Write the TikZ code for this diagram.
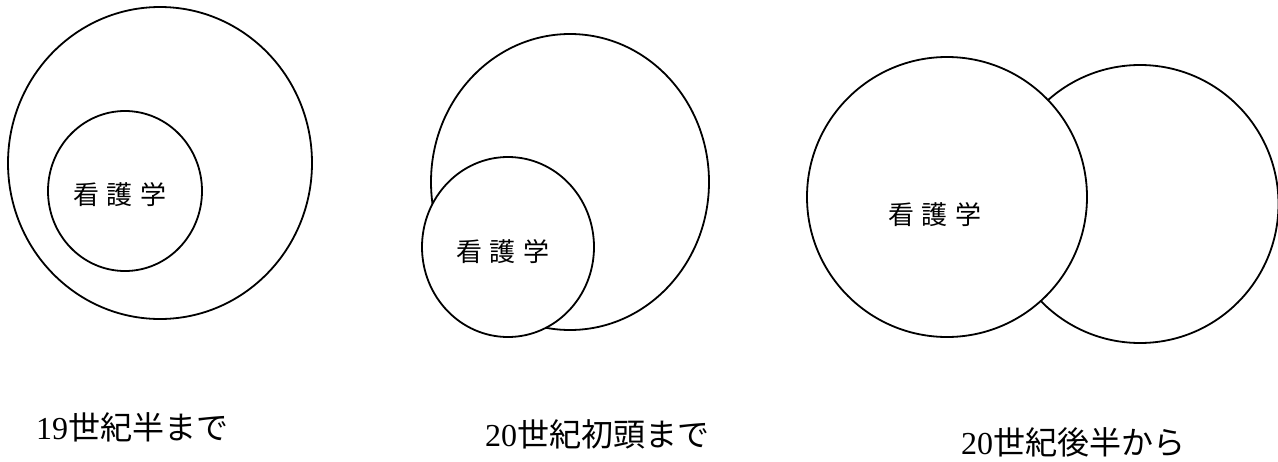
\documentclass[tikz,border=0pt]{standalone}
\usepackage{fontspec}
\newfontfamily\cjk{Noto Sans CJK JP}
\newfontfamily\numf{Liberation Serif}
\usetikzlibrary{shapes.geometric}
\tikzset{
  ring/.style={draw=black, fill=white, line width=1.8pt, ellipse, inner sep=0pt},
  inlabel/.style={font=\cjk\fontsize{26}{26}\selectfont, inner sep=0pt},
  caption/.style={font=\fontsize{32}{32}\selectfont, inner sep=0pt, anchor=west}
}
\newcommand{\kango}{看\hspace{8pt}護\hspace{8pt}学}
\begin{document}
\begin{tikzpicture}[x=1pt,y=-1pt]
\useasboundingbox[fill=white] (0,0) rectangle (1278,461);
% Diagram 1
\node[ring, minimum width=304pt, minimum height=312pt] (big1) at (160,163) {};
\node[ring, minimum width=154pt, minimum height=160pt] (small1) at (125,191) {};
\node[inlabel] (t1) at (120,195) {\kango};
% Diagram 2
\node[ring, minimum width=278pt, minimum height=296pt] (big2) at (570,182) {};
\node[ring, minimum width=172pt, minimum height=180pt] (small2) at (508,247) {};
\node[inlabel] (t2) at (503,252) {\kango};
% Diagram 3
\node[ring, minimum width=277pt, minimum height=278pt] (right3) at (1140,204) {};
\node[ring, minimum width=280pt, minimum height=280pt] (left3) at (947,197) {};
\node[inlabel] (t3) at (935,215) {\kango};
% Captions
\node[caption] (c1) at (36,427) {{\numf 19}\cjk 世紀半まで};
\node[caption] (c2) at (485,434) {{\numf 20}\cjk 世紀初頭まで};
\node[caption] (c3) at (961,442) {{\numf 20}\cjk 世紀後半から};
\end{tikzpicture}
\end{document}
